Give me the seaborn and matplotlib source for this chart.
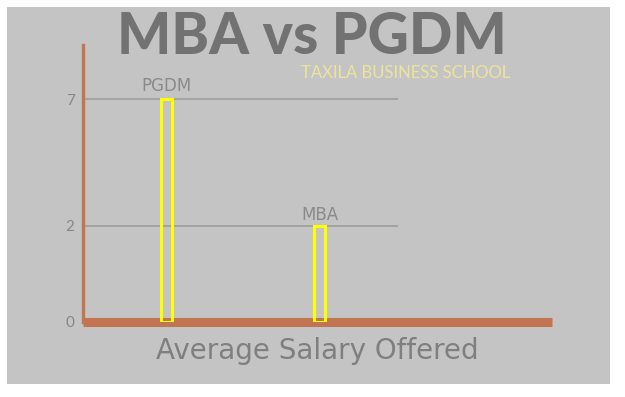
import numpy as np
import pandas as pd
import matplotlib
matplotlib.use("Agg")
import matplotlib.pyplot as plt
import seaborn as sns
from matplotlib.patches import Rectangle

programs = ["PGDM", "MBA"]
salary = [7, 2]
y_ticks = [0, 2, 7]

df = pd.DataFrame({"program": programs, "salary": salary})

sns.set_style("white")
plt.rcParams["font.family"] = ["Lato", "DejaVu Sans"]

panel = "#c4c4c4"
brown = "#c27550"
grey_text = "#878787"

fig = plt.figure(figsize=(6.25, 3.97), dpi=100)
fig.patch.set_facecolor("white")
fig.patches.append(Rectangle((7 / 625, 13 / 397), 603 / 625, 377 / 397,
                             transform=fig.transFigure, facecolor=panel,
                             edgecolor="none", zorder=-10))

ax = fig.add_axes([0.1328, 0.189, 0.7504, 0.698])
ax.set_facecolor("none")

# the infographic's vertical axis is squashed, a power scale mimics it
p = 0.67
ax.set_yscale("function",
              functions=(lambda v: np.sign(v) * np.abs(v) ** p,
                         lambda v: np.sign(v) * np.abs(v) ** (1 / p)))

sns.barplot(data=df, x="program", y="salary", order=programs, ax=ax,
            fill=False, color="#ffff00", linewidth=2.2, width=0.07,
            errorbar=None, zorder=3)
for patch in ax.patches:
    patch.set_edgecolor("#ffff00")

ax.set_xlim(-0.546, 2.52)
ax.set_ylim(0, 9.7)

# reference lines at the bar heights, only across part of the plot
ax.hlines([v for v in y_ticks if v > 0], -0.546, 1.513, color="#9a9a9a",
          linewidth=1.1, zorder=2)

for i, (name, val) in enumerate(zip(programs, salary)):
    ax.text(i, val * 1.03, name, ha="center", va="bottom",
            fontsize=12, color="#8a8a8a", family="DejaVu Sans")

ax.set_yticks(y_ticks)
ax.set_yticklabels([str(t) for t in y_ticks])
ax.tick_params(axis="y", length=0, labelsize=11, labelcolor=grey_text, pad=6)
ax.set_xticks([])
ax.set_xlabel("Average Salary Offered", fontsize=20, color="#7f7f7f",
              labelpad=11, family="DejaVu Sans")
ax.set_ylabel("")

for side in ["top", "right"]:
    ax.spines[side].set_visible(False)
ax.spines["left"].set_color(brown)
ax.spines["left"].set_linewidth(2.4)
ax.spines["bottom"].set_color(brown)
ax.spines["bottom"].set_linewidth(6.5)
ax.spines["bottom"].set_capstyle("butt")

fig.text(0.4995, 0.906, "MBA vs PGDM", ha="center", va="center",
         fontsize=41, fontweight="black", color="#727272")
fig.text(0.817, 0.817, "TAXILA BUSINESS SCHOOL", ha="right", va="center",
         fontsize=12, color="#ece49c")

fig.savefig("out.png", dpi=100)
